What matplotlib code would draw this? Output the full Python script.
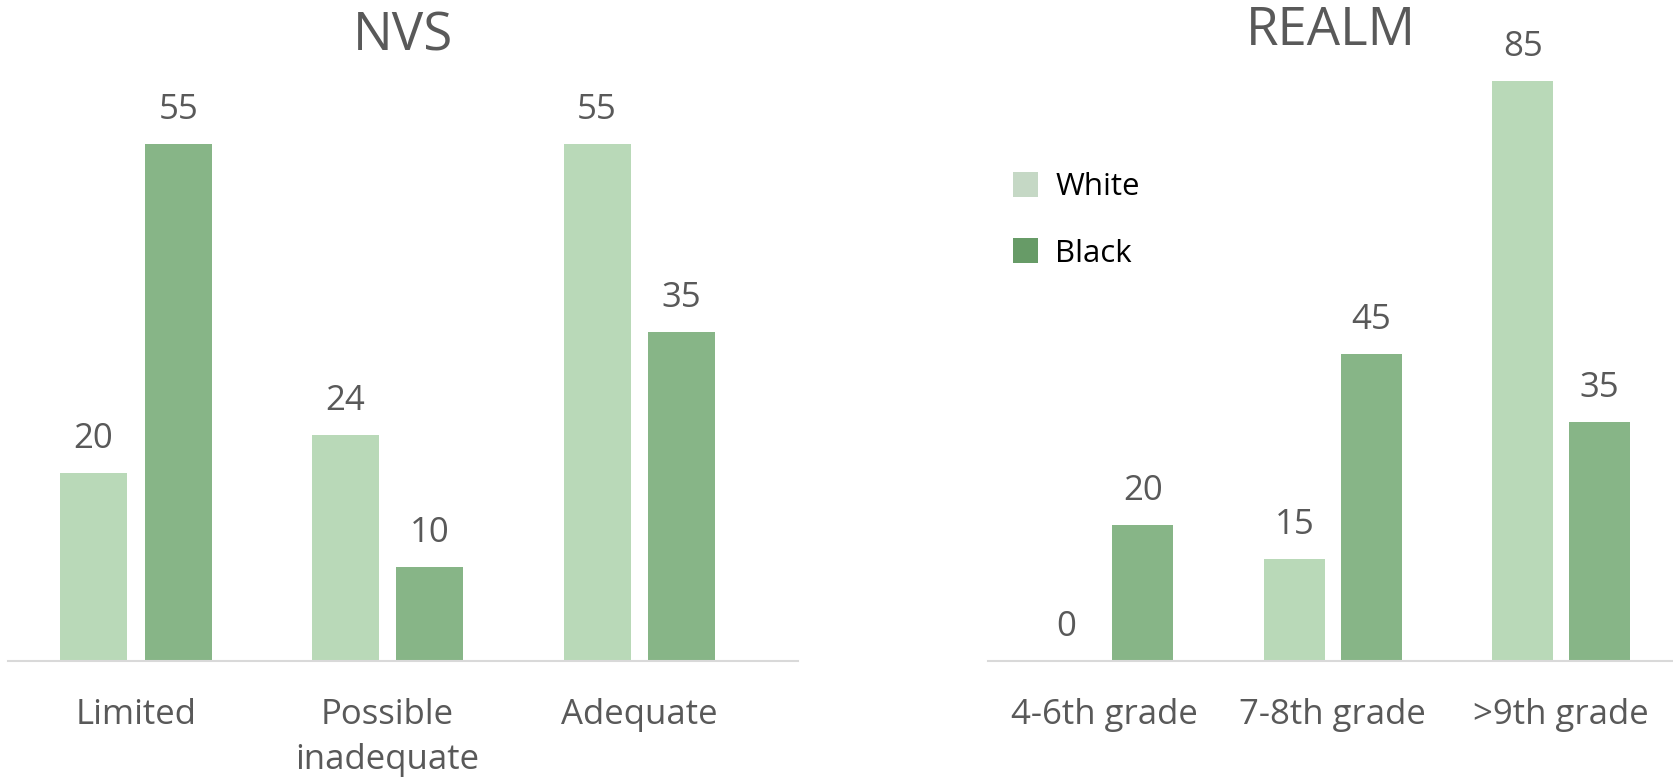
import numpy as np
import matplotlib
matplotlib.use("Agg")
import matplotlib.pyplot as plt
from matplotlib.patches import Patch

plt.rcParams['font.family'] = ['Open Sans', 'DejaVu Sans']

# NVS panel
nvs_categories = ['Limited', 'Possible\ninadequate', 'Adequate']
nvs_white = [20, 24, 55]
nvs_black = [55, 10, 35]

# REALM panel
realm_categories = ['4-6th grade', '7-8th grade', '>9th grade']
realm_white = [0, 15, 85]
realm_black = [20, 45, 35]

light_green = '#B9D9B8'
dark_green = '#87B587'
text_gray = '#595959'

W, H = 1673, 782
fig = plt.figure(figsize=(W / 100, H / 100), dpi=100)

ax1 = fig.add_axes([8 / W, 121 / H, 790 / W, 611 / H])
ax2 = fig.add_axes([988 / W, 121 / H, 685 / W, 616 / H])

bar_w = 0.266
offset = 0.168


def draw_panel(ax, cats, white, black, title, xlim, ylim):
    x = np.arange(len(cats))
    b1 = ax.bar(x - offset, white, bar_w, color=light_green)
    b2 = ax.bar(x + offset, black, bar_w, color=dark_green)
    for bars, vals in ((b1, white), (b2, black)):
        for rect, v in zip(bars, vals):
            ax.annotate(str(v), (rect.get_x() + rect.get_width() / 2, v),
                        xytext=(0, 18), textcoords='offset points',
                        ha='center', va='baseline', fontsize=25, color=text_gray)
    ax.set_xlim(*xlim)
    ax.set_ylim(*ylim)
    ax.set_xticks(x)
    ax.set_xticklabels(cats, fontsize=25, color=text_gray, linespacing=1.4)
    ax.tick_params(axis='x', length=0, pad=27)
    ax.set_yticks([])
    for s in ('top', 'right', 'left'):
        ax.spines[s].set_visible(False)
    ax.spines['bottom'].set_color('#D9D9D9')
    ax.spines['bottom'].set_linewidth(1.5)
    ax.set_title(title, fontsize=38, color=text_gray, y=1.0, pad=0)


draw_panel(ax1, nvs_categories, nvs_white, nvs_black, 'NVS', (-0.508, 2.63), (0, 65))
draw_panel(ax2, realm_categories, realm_white, realm_black, 'REALM', (-0.51, 2.49), (0, 90.3))

handles = [Patch(facecolor='#C5D8C5', label='White'),
           Patch(facecolor='#679B67', label='Black')]
fig.legend(handles=handles, loc='upper left', bbox_to_anchor=(1013 / W, 1 - 172 / H),
           frameon=False, fontsize=22.5, handlelength=0.8, handleheight=0.85,
           handletextpad=0.55, labelspacing=1.15, borderpad=0, borderaxespad=0)

fig.savefig('out.png', dpi=100)
